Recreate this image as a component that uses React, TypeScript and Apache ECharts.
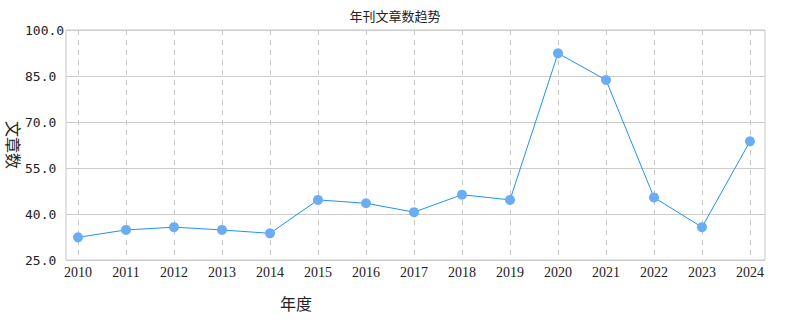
import React, { useEffect, useRef } from "react";
import * as echarts from "echarts";

const years = ["2010", "2011", "2012", "2013", "2014", "2015", "2016", "2017", "2018", "2019", "2020", "2021", "2022", "2023", "2024"];
const articles = [32.4, 34.8, 35.7, 34.8, 33.7, 44.6, 43.5, 40.6, 46.3, 44.6, 92.4, 83.7, 45.4, 35.7, 63.7];
const yMin = 25;
const yMax = 100;
const yStep = 15;

export default function App() {
  const ref = useRef<HTMLDivElement>(null);
  useEffect(() => {
    if (!ref.current) return;
    const chart = echarts.init(ref.current, null, { renderer: "svg" });
    chart.setOption({
      animation: false,
      backgroundColor: "#ffffff",
      title: {
        text: "年刊文章数趋势",
        left: "center",
        top: 4,
        textStyle: { fontSize: 13, fontWeight: "normal", color: "#222", fontFamily: "Noto Sans CJK SC" },
      },
      graphic: [
        {
          type: "text",
          left: 280,
          top: 295,
          style: { text: "年度", fontSize: 16, fontWeight: "normal", fill: "#222", fontFamily: "Noto Sans CJK SC" },
        },
      ],
      grid: [
        { left: 66, right: 25, top: 30, bottom: 70, show: true, borderColor: "#c8c8c8", borderWidth: 1, backgroundColor: "transparent", outerBoundsMode: "none", containLabel: false },
        { left: 78, right: 40, top: 30, bottom: 70, outerBoundsMode: "none", containLabel: false },
      ],
      xAxis: [
        { type: "value", gridIndex: 0, min: 0, max: 1, show: false },
        {
          type: "category",
          gridIndex: 1,
          data: years,
          boundaryGap: false,
          axisLine: { show: false },
          axisTick: { show: false },
          axisLabel: { fontFamily: "Liberation Serif", fontSize: 14, color: "#222", margin: 5 },
          splitLine: { show: true, lineStyle: { type: [5, 5], color: "#c8c8c8", width: 1 } },
        },
      ],
      yAxis: [
        {
          type: "value",
          gridIndex: 0,
          min: yMin,
          max: yMax,
          interval: yStep,
          name: "文章数",
          nameLocation: "middle",
          nameRotate: -90,
          nameGap: 44,
          nameMoveOverlap: false,
          nameTextStyle: { fontSize: 16, fontWeight: "normal", color: "#222", fontFamily: "Noto Sans CJK SC" },
          axisLine: { show: false },
          axisTick: { show: false },
          axisLabel: {
            fontFamily: "DejaVu Sans Mono",
            fontSize: 13,
            color: "#222",
            margin: 41,
            align: "left",
            formatter: (v: number) => v.toFixed(1),
          },
          splitLine: { show: true, lineStyle: { color: "#cccccc", width: 1 } },
        },
        { type: "value", gridIndex: 1, min: yMin, max: yMax, interval: yStep, show: false, splitLine: { show: false } },
      ],
      series: [
        {
          type: "line",
          xAxisIndex: 1,
          yAxisIndex: 1,
          data: articles,
          symbol: "circle",
          symbolSize: 10,
          itemStyle: { color: "#6aacf6" },
          lineStyle: { color: "#1e90ff", width: 1 },
        },
      ],
    });
    return () => chart.dispose();
  }, []);
  return <div ref={ref} style={{ position: "fixed", left: 0, top: 0, width: 790, height: 330 }} />;
}
